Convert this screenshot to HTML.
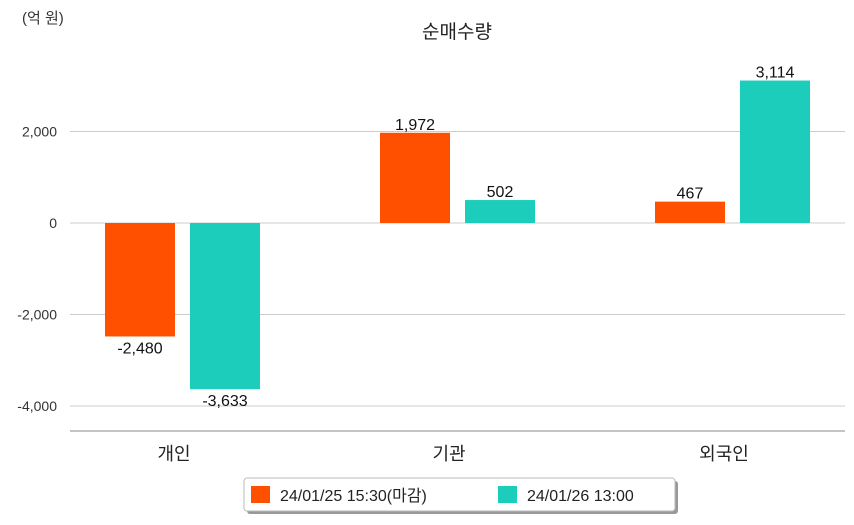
<!DOCTYPE html>
<html><head><meta charset="utf-8">
<style>
body{margin:0;background:#fff;font-family:"Liberation Sans","Noto Sans CJK KR",sans-serif;}
svg text{font-family:"Liberation Sans","Noto Sans CJK KR",sans-serif;}
</style></head>
<body>
<svg width="854" height="520" viewBox="0 0 854 520">
<text x="22" y="23" font-size="15" fill="#333">(억 원)</text>
<text x="457" y="38" font-size="19" fill="#222" text-anchor="middle">순매수량</text>
<g id="grid"></g>
<g id="bars"></g>
<line x1="70" y1="431" x2="845" y2="431" stroke="#888"/>
<g>
<rect x="247" y="481" width="431" height="33" fill="#999" rx="3"/>
<rect x="244" y="478" width="431" height="33" fill="#fff" stroke="#bbb" rx="3"/>
<g><rect x="251" y="486" width="19" height="17" fill="#ff5000"/>
<text x="280" y="501" font-size="16" fill="#222">24/01/25 15:30(마감)</text></g>
<g><rect x="498" y="486" width="19" height="17" fill="#1ccdbb"/>
<text x="527" y="501" font-size="16" fill="#222">24/01/26 13:00</text></g>
</g>
</svg>
<script>
const categories=["개인","기관","외국인"];
const series1=[-2480,1972,467];
const series2=[-3633,502,3114];
const yTicks=[2000,0,-2000,-4000];
const NS="http://www.w3.org/2000/svg";
const y=v=>223-v*(91.5/2000);
const firstCenter=182,groupW=275;
function el(t,a,p){const e=document.createElementNS(NS,t);for(const k in a)e.setAttribute(k,a[k]);p.appendChild(e);return e;}
const grid=document.getElementById('grid'),bars=document.getElementById('bars');
const fmt=v=>v.toLocaleString('en-US');
yTicks.forEach(v=>{
const l=el('line',{x1:70,x2:845,y1:y(v),y2:y(v),stroke:'#ccc'},grid);


const t=el('text',{x:57,y:y(v)+5,'font-size':14,fill:'#333','text-anchor':'end'},grid);
t.textContent=fmt(v);


});
categories.forEach((c,i)=>{
const cx=firstCenter+groupW*i;
const t=el('text',{x:cx-8,y:460,'font-size':18,fill:'#222','text-anchor':'middle'},bars);
t.textContent=c;


[[series1,'#ff5000',cx-77],[series2,'#1ccdbb',cx+8]].forEach(([s,col,bx],j)=>{
const v=s[i],top=Math.min(y(v),y(0)),h=Math.abs(y(v)-y(0));
const r=el('rect',{x:bx,y:top,width:70,height:h,fill:col},bars);


const lt=el('text',{x:bx+35,y:v>=0?y(v)-3:y(v)+17,'font-size':16,fill:'#111','text-anchor':'middle'},bars);
lt.textContent=fmt(v);


});
});
</script>
</body></html>
